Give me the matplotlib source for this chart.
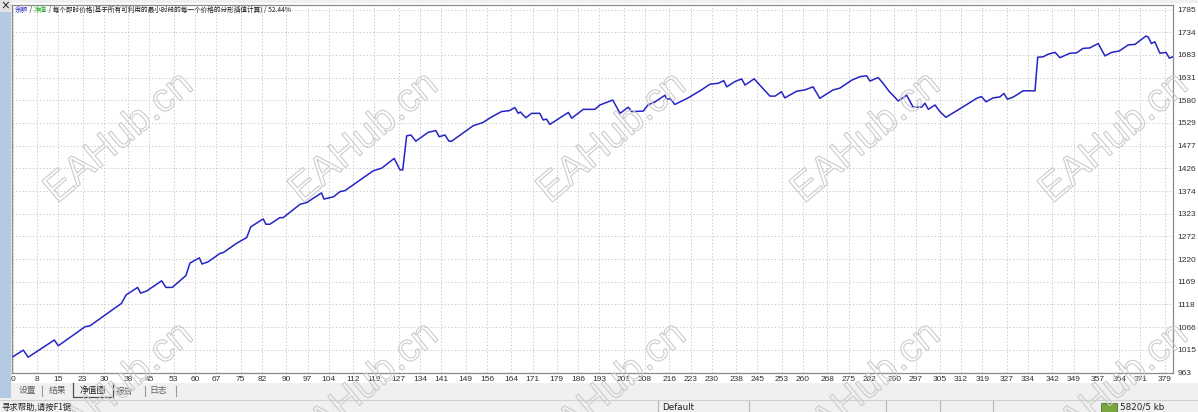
import numpy as np
import matplotlib.pyplot as plt
from matplotlib.patches import Rectangle, PathPatch
from matplotlib.lines import Line2D
from matplotlib.textpath import TextPath
from matplotlib.font_manager import FontProperties
from matplotlib.transforms import Affine2D, IdentityTransform

plt.rcParams['font.family'] = ['Noto Sans CJK SC', 'DejaVu Sans']

# 交易序号 / 余额
trade_no = [0, 3.5, 5.1, 13.7, 15, 23.8, 25.4, 35.8, 37.3, 41.1, 42.1, 44.1, 49, 50.4,
            52.5, 57, 58.3, 61.4, 62.3, 64.3, 68.2, 69.3, 73.7, 77, 78.3, 82.4, 83.3,
            84.6, 87.9, 89, 94.5, 96.7, 101.6, 102.4, 105.5, 107.7, 109.3, 118.6, 121.4,
            125.5, 127.4, 128.3, 129.6, 131, 132.6, 136.7, 139.2, 140.3, 142.2, 143.5,
            144.4, 151.5, 154.6, 157.6, 160.8, 163.3, 165.2, 166.3, 167, 168.8, 170.7,
            173.4, 174.5, 175.6, 176.7, 182.8, 183.9, 187.7, 191.5, 193.2, 197.4, 199.8,
            202.5, 203.6, 207.4, 209, 211.3, 214.6, 215.1, 216.4, 217.8, 222.2, 226.1,
            229.4, 232.1, 233.9, 234.9, 237.6, 239.8, 240.9, 243.9, 249.1, 250.8, 252.9,
            254, 257.9, 260.6, 263.3, 265.5, 269.9, 272.1, 276, 278.7, 280.9, 282, 284.7,
            286.2, 288.4, 289.7, 291.3, 294.1, 296.2, 299, 300.1, 301.2, 303.4, 305, 307,
            312.7, 317.1, 318.7, 320.2, 322.5, 324.7, 326.1, 327.2, 329.2, 332.4, 336.3,
            337.2, 339, 340.7, 342.9, 344.5, 347.8, 350, 352.1, 354.3, 357.1, 359.3,
            361.5, 364, 367, 369.2, 372.8, 373.5, 374.6, 375.7, 377.4, 379.4, 380.5, 381.7]
balance = [999, 1014, 998, 1037, 1024, 1067, 1069, 1120, 1139, 1156, 1143, 1148, 1171, 1156,
           1156, 1183, 1211, 1223, 1209, 1214, 1233, 1235, 1256, 1269, 1293, 1311, 1299,
           1299, 1314, 1314, 1344, 1348, 1370, 1356, 1361, 1373, 1375, 1420, 1426,
           1448, 1422, 1422, 1499, 1501, 1487, 1507, 1511, 1497, 1501, 1487,
           1487, 1522, 1529, 1542, 1554, 1556, 1563, 1550, 1553, 1540, 1550,
           1550, 1535, 1537, 1525, 1552, 1539, 1559, 1559, 1569, 1580, 1550,
           1564, 1554, 1555, 1569, 1576, 1591, 1582, 1583, 1570, 1585, 1601,
           1616, 1618, 1624, 1610, 1622, 1628, 1614, 1628, 1589, 1589, 1599,
           1585, 1600, 1603, 1610, 1584, 1603, 1607, 1625, 1633, 1635, 1623, 1631,
           1619, 1599, 1590, 1578, 1591, 1564, 1564, 1573, 1559, 1569, 1554, 1541,
           1565, 1584, 1588, 1576, 1585, 1587, 1595, 1582, 1587, 1601, 1601,
           1677, 1678, 1684, 1688, 1676, 1686, 1687, 1697, 1698, 1708, 1680,
           1688, 1691, 1705, 1706, 1725, 1723, 1708, 1712, 1686, 1688, 1675, 1678]

y_labels = [963, 1015, 1066, 1118, 1169, 1220, 1272, 1323, 1374, 1426, 1477, 1529,
            1580, 1631, 1683, 1734, 1785]
x_labels = [0, 8, 15, 23, 30, 38, 45, 53, 60, 67, 75, 82, 90, 97, 104, 112, 119, 127,
            134, 141, 149, 156, 164, 171, 179, 186, 193, 201, 208, 216, 223, 230, 238,
            245, 253, 260, 268, 275, 282, 290, 297, 305, 312, 319, 327, 334, 342, 349,
            357, 364, 371, 379]

title_parts = [('余额', '#3030c8'), (' / ', '#202020'), ('净值', '#22aa22'),
               (' / 每个即时价格(基于所有可利用的最小时段的每一个价格的分形插值计算) / 52.44%', '#202020')]
tabs = ['设置', '结果', '净值图', '报告', '日志']

W, H = 1198, 412
fig = plt.figure(figsize=(W / 100, H / 100), dpi=100, facecolor='#f0f0f0')


def box(x0, y0, w, h):
    # pixel box (top-left origin) -> figure fraction
    return [x0 / W, 1 - (y0 + h) / H, w / W, h / H]


def rect(x0, y0, w, h, **kw):
    fig.patches.append(Rectangle(box(x0, y0, w, h)[:2], w / W, h / H,
                                 transform=fig.transFigure, **kw))


# window pieces
rect(12, 3, W - 12, 380, facecolor='white', edgecolor='none', zorder=-2)
rect(0, 12, 11, 386, facecolor='#b4c9e2', edgecolor='none', zorder=-2)
rect(0, 0, 11, 12, facecolor='#e4e4e4', edgecolor='none', zorder=-2)
fig.text(5 / W, 1 - 6 / H, '×', fontsize=7, ha='center', va='center', color='#303030',
         fontweight='bold')

ax = fig.add_axes(box(12, 5, 1161, 368))
ax.set_xlim(-0.23, 381.7)
ax.set_ylim(962.3, 1795.2)
ax.plot(trade_no, balance, color='#2424c4', lw=1.1, zorder=3)

ax.set_xticks(x_labels)
ax.set_xticklabels([str(v) for v in x_labels])
ax.set_yticks(y_labels)
ax.set_yticklabels([str(v) for v in y_labels])
ax.yaxis.tick_right()
ax.tick_params(axis='both', length=0, labelsize=6, colors='#303030')
ax.tick_params(axis='x', pad=2)
ax.tick_params(axis='y', pad=3)
for lab in ax.get_yticklabels() + ax.get_xticklabels():
    lab.set_family('Liberation Sans')
ax.grid(color='#cdcdcd', linestyle=(0, (1.5, 2)), lw=0.7)
for s in ax.spines.values():
    s.set_color('#8a8a8a')
    s.set_linewidth(0.9)

# title with coloured parts
prev = ax.text(15 / W, 1 - 10 / H, title_parts[0][0], fontsize=4.8, transform=fig.transFigure,
               color=title_parts[0][1], va='center', ha='left')
for txt, col in title_parts[1:]:
    prev = ax.annotate(txt, xy=(1, 0.5), xycoords=prev, fontsize=4.8, color=col,
                       va='center', ha='left')

# tabs bar
tab_x = [27, 57, 93, 125, 158]
for name, xc in zip(tabs, tab_x):
    fig.text(xc / W, 1 - 391 / H, name, fontsize=6.3, ha='center', va='center',
             color='#202020' if name == '净值图' else '#606060')
for xs in [42, 145, 176]:
    fig.add_artist(Line2D([xs / W, xs / W], [1 - 386 / H, 1 - 396 / H],
                          transform=fig.transFigure, color='#9a9a9a', lw=0.8))
fig.add_artist(Line2D([73 / W, 73 / W, 113 / W, 113 / W],
                      [1 - 383 / H, 1 - 397 / H, 1 - 397 / H, 1 - 383 / H],
                      transform=fig.transFigure, color='#505050', lw=0.9))

# status bar
fig.add_artist(Line2D([0, 1], [1 - 400 / H, 1 - 400 / H], transform=fig.transFigure,
                      color='#d0d0d0', lw=0.8))
fig.text(1 / W, 1 - 406.5 / H, '寻求帮助,请按F1键', fontsize=6, ha='left', va='center',
         color='#202020')
fig.text(662 / W, 1 - 407 / H, 'Default', fontsize=6.3, ha='left', va='center',
         color='#202020', family='DejaVu Sans')
for xs in [658, 749, 886, 940, 993]:
    fig.add_artist(Line2D([xs / W, xs / W], [0, 1 - 401 / H], transform=fig.transFigure,
                          color='#b8b8b8', lw=0.8))
fig.text(1120 / W, 1 - 407 / H, '5820/5 kb', fontsize=6.3, ha='left', va='center',
         color='#202020', family='DejaVu Sans')
rect(1101, 403, 16, 9, facecolor='#7aa640', edgecolor='#3d5c1e', lw=0.5, zorder=2)

# watermarks
wm = TextPath((0, 0), 'EAHub.cn', size=40, prop=FontProperties(family='Liberation Sans'))
ext = wm.get_extents()
wm_cx = [117, 362, 610, 864, 1112]
wm_cy = [135, 385]
for cy in wm_cy:
    for cx in wm_cx:
        tr = (Affine2D().translate(-(ext.x0 + ext.x1) / 2, -(ext.y0 + ext.y1) / 2)
              .rotate_deg(40).translate(cx, H - cy))
        fig.add_artist(PathPatch(tr.transform_path(wm), transform=IdentityTransform(),
                                 facecolor='none', edgecolor='#cccccc', lw=0.8, zorder=10))

fig.savefig('out.png', dpi=100, facecolor=fig.get_facecolor())
